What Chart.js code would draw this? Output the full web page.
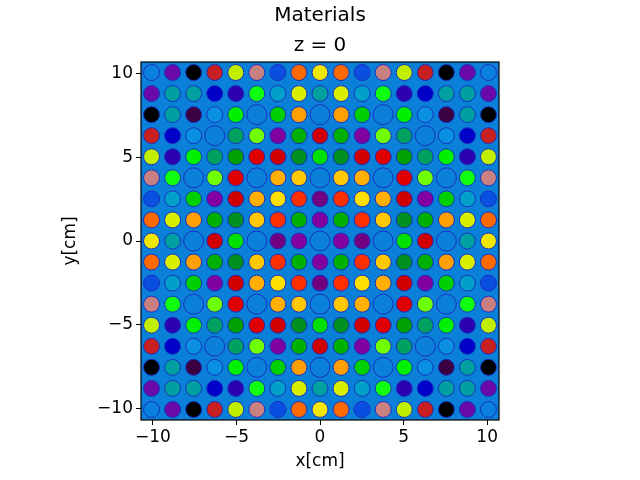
<!DOCTYPE html>
<html lang="en">
<head>
<meta charset="UTF-8">
<title>Materials</title>
<script src="https://cdn.jsdelivr.net/npm/chart.js"></script>
<style>
  body { margin: 0; background: white; }
  #wrap { width: 640px; height: 480px; }
</style>
</head>
<body>
<div id="wrap"><canvas id="c"></canvas></div>
<script>
// pin pitch (cm) and lattice size
const PITCH = 1.26;
const N = 17;
const tickValues = [-10, -5, 0, 5, 10];
const titleLines = ["Materials", "z = 0"];

// colour key per material code, G = guide tube (empty), C = centre tube
const palette = {
  a: "#0a80e0", p: "#6a0aa8", k: "#000000", r: "#c82020", y: "#c0f000", m: "#c88080",
  b: "#0a50e0", o: "#ff6a00", Y: "#f0e800", t: "#00a0a0", d: "#0000c8", i: "#2a00b0",
  g: "#10ff10", c: "#00a0c8", l: "#d8f000", q: "#3a0040", L: "#0a90e0", G1: "#00f000",
  e: "#00d000", O: "#ffa000", s: "#00a060", h: "#70ff00", P: "#8000a0", n: "#00b000",
  R: "#d00000", D: "#00a000", E: "#e00000", f: "#009020", F: "#00e000", A: "#ffb000",
  u: "#ffc800", w: "#ffe000", x: "#ff3000", v: "#700080"
};

// top-left quadrant (rows from top, cols from left), 9x9
const quadrant = [
  ["a","p","k","r","y","m","b","o","Y"],
  ["p","t","t","d","i","g","c","l","t"],
  ["k","t","q","L","G1","G","e","O","G"],
  ["r","d","L","G","s","h","P","n","R"],
  ["y","i","G1","s","D","E","R","f","F"],
  ["m","g","G","h","E","G","A","u","G"],
  ["b","c","e","P","R","A","w","x","v"],
  ["o","l","O","n","f","u","x","n","P"],
  ["Y","t","G","R","F","G","v","P","C"]
];

function codeAt(row, col) {
  const r = row > 8 ? 16 - row : row;
  const c = col > 8 ? 16 - col : col;
  return quadrant[r][c];
}

const pins = [], pinColors = [], guides = [], centre = [];
for (let row = 0; row < N; row++) {
  for (let col = 0; col < N; col++) {
    const x = (col - 8) * PITCH;
    const y = (8 - row) * PITCH;
    const code = codeAt(row, col);
    if (code === "G") {
      guides.push({ x, y });
    } else if (code === "C") {
      centre.push({ x, y });
    } else {
      pins.push({ x, y });
      pinColors.push(palette[code]);
    }
  }
}

const FONT = "DejaVu Sans";

const frame = {
  id: "frame",
  beforeDatasetsDraw(chart) {
    const a = chart.chartArea, ctx = chart.ctx;
    ctx.save();
    ctx.fillStyle = "#0a80d8";
    ctx.fillRect(a.left, a.top, a.right - a.left, a.bottom - a.top);
    ctx.restore();
  },
  afterDraw(chart) {
    const a = chart.chartArea, ctx = chart.ctx;
    ctx.save();
    ctx.strokeStyle = "#000";
    ctx.lineWidth = 1.2;
    ctx.strokeRect(a.left, a.top, a.right - a.left, a.bottom - a.top);
    // two-line title centred on the canvas
    ctx.fillStyle = "#000";
    ctx.font = "20px '" + FONT + "'";
    ctx.textAlign = "center";
    ctx.textBaseline = "middle";
    ctx.fillText(titleLines[0], chart.width / 2, 16);
    ctx.fillText(titleLines[1], chart.width / 2, 46);
    ctx.restore();
  }
};

const fixTicks = s => { s.ticks = tickValues.map(v => ({ value: v })); };
const tickFmt = v => (v < 0 ? "\u2212" + Math.abs(v) : String(v));

new Chart(document.getElementById("c"), {
  type: "scatter",
  data: {
    datasets: [
      { data: guides, pointRadius: 10, backgroundColor: "#0a80d8", borderColor: "#1a30c0", borderWidth: 1 },
      { data: centre, pointRadius: 10, backgroundColor: "#0a80d8", borderColor: "#1a30c0", borderWidth: 1 },
      { data: centre, pointRadius: 8, backgroundColor: "#ff0000", borderColor: "#1a30c0", borderWidth: 1 },
      { data: pins, pointRadius: 8, backgroundColor: pinColors, borderColor: "#1a30c0", borderWidth: 1 }
    ]
  },
  options: {
    responsive: true,
    maintainAspectRatio: false,
    animation: false,
    layout: { padding: { left: 58, right: 141, top: 62, bottom: 6 } },
    plugins: {
      legend: { display: false },
      tooltip: { enabled: false },
      title: { display: false }
    },
    scales: {
      x: {
        min: -10.71, max: 10.71,
        afterBuildTicks: fixTicks,
        afterFit: s => { s.height = 54; },
        grid: { drawOnChartArea: false, color: "#000", tickLength: 5 },
        border: { display: false },
        ticks: { color: "#000", font: { family: FONT, size: 17 }, callback: tickFmt, padding: 2 },
        title: { display: true, text: "x[cm]", color: "#000", font: { family: FONT, size: 17 }, padding: 2 }
      },
      y: {
        min: -10.71, max: 10.71,
        afterBuildTicks: fixTicks,
        afterFit: s => { s.width = 83; },
        grid: { drawOnChartArea: false, color: "#000", tickLength: 5 },
        border: { display: false },
        ticks: { color: "#000", font: { family: FONT, size: 17 }, callback: tickFmt, padding: 3 },
        title: { display: true, text: "y[cm]", color: "#000", font: { family: FONT, size: 17 }, padding: 2 }
      }
    }
  },
  plugins: [frame]
});
</script>
</body>
</html>
